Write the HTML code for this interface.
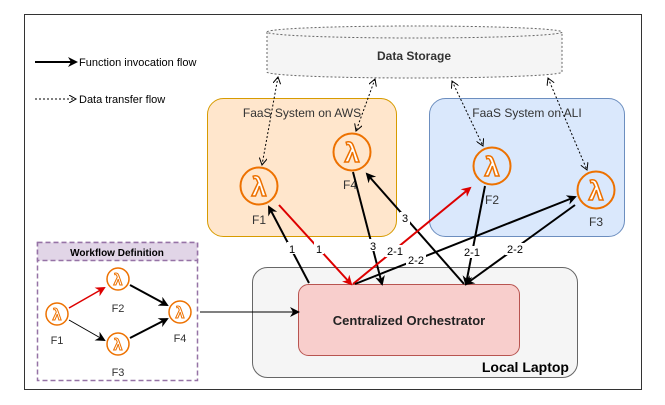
<!DOCTYPE html>
<html><head><meta charset="utf-8"><style>
html,body{margin:0;padding:0;background:#fff;}
svg{display:block;font-family:"Liberation Sans",sans-serif;}
</style></head><body>
<svg width="665" height="405" viewBox="0 0 665 405">
<defs>
<marker id="ab" markerWidth="10" markerHeight="10" refX="8" refY="5" orient="auto" markerUnits="userSpaceOnUse"><path d="M0,0 L10,5 L0,10 L3,5 z" fill="#000"/></marker>
<marker id="ar" markerWidth="10" markerHeight="10" refX="8" refY="5" orient="auto" markerUnits="userSpaceOnUse"><path d="M0,0 L10,5 L0,10 L3,5 z" fill="#d00"/></marker>
<marker id="ad" markerWidth="8" markerHeight="8" refX="7" refY="4" orient="auto" markerUnits="userSpaceOnUse"><path d="M0,0 L7,4 L0,8" fill="none" stroke="#000" stroke-width="1"/></marker>
<marker id="ads" markerWidth="8" markerHeight="8" refX="1" refY="4" orient="auto" markerUnits="userSpaceOnUse"><path d="M8,0 L1,4 L8,8" fill="none" stroke="#000" stroke-width="1"/></marker>
</defs>
<rect x="24.5" y="14.5" width="617" height="375" fill="#fff" stroke="#333" stroke-width="1"/>

<!-- legend -->
<line x1="35" y1="62" x2="76" y2="62" stroke="#000" stroke-width="2" marker-end="url(#ab)"/>
<text x="79" y="66" font-size="11">Function invocation flow</text>
<line x1="35" y1="99" x2="76" y2="99" stroke="#000" stroke-width="1" stroke-dasharray="2,2" marker-end="url(#ad)"/>
<text x="79" y="103" font-size="11">Data transfer flow</text>

<!-- storage cylinder -->
<path d="M267,32 L267,72 A147.5,6 0 0 0 562,72 L562,32" fill="#f5f5f5" stroke="#666" stroke-dasharray="2,2"/>
<ellipse cx="414.5" cy="32" rx="147.5" ry="6" fill="#f5f5f5" stroke="#666" stroke-dasharray="2,2"/>
<text x="414" y="60" font-size="12" font-weight="bold" text-anchor="middle" fill="#333">Data Storage</text>

<!-- FaaS boxes -->
<rect x="207.5" y="98.5" width="189" height="138" rx="16" fill="#ffe6cc" stroke="#d79b00"/>
<text x="302" y="117" font-size="12" text-anchor="middle" fill="#333">FaaS System on AWS</text>
<rect x="429.5" y="98.5" width="195" height="138" rx="16" fill="#dae8fc" stroke="#6c8ebf"/>
<text x="527" y="117" font-size="12" text-anchor="middle" fill="#333">FaaS System on ALI</text>

<!-- dotted data lines -->
<g stroke="#000" stroke-width="1" stroke-dasharray="2,2" fill="none">
<line x1="278" y1="77" x2="262" y2="165" marker-start="url(#ads)" marker-end="url(#ad)"/>
<line x1="375" y1="79" x2="356" y2="131" marker-start="url(#ads)" marker-end="url(#ad)"/>
<line x1="452" y1="81" x2="483" y2="146" marker-start="url(#ads)" marker-end="url(#ad)"/>
<line x1="548" y1="78" x2="587" y2="170" marker-start="url(#ads)" marker-end="url(#ad)"/>
</g>

<!-- Lambda icons -->
<g stroke="#ED7100" stroke-width="2" fill="#fff">
<circle cx="259" cy="186" r="18.5" fill="none"/>
<circle cx="352" cy="152" r="18.5" fill="none"/>
<circle cx="492" cy="166" r="18.5" fill="none"/>
<circle cx="596" cy="190" r="18.5" fill="none"/>
</g>
<g font-size="27" font-weight="bold" text-anchor="middle" fill="#fff" stroke="#ED7100" stroke-width="1.5">
<text x="259" y="196">λ</text><text x="352" y="162">λ</text><text x="492" y="176">λ</text><text x="596" y="200">λ</text>
</g>
<g font-size="12" fill="#333" text-anchor="middle">
<text x="259" y="224">F1</text><text x="350" y="189">F4</text><text x="492" y="204">F2</text><text x="596" y="226">F3</text>
</g>

<!-- local laptop -->
<rect x="252.5" y="267.5" width="325" height="110" rx="15" fill="#f5f5f5" stroke="#666"/>
<text x="569" y="372" font-size="14" font-weight="bold" text-anchor="end">Local Laptop</text>
<rect x="298.5" y="284.5" width="221" height="71" rx="10" fill="#f8cecc" stroke="#b85450"/>
<text x="409" y="325" font-size="13" font-weight="bold" text-anchor="middle" fill="#222">Centralized Orchestrator</text>

<!-- invocation arrows -->
<g stroke-width="2" fill="none">
<line x1="309" y1="283" x2="269" y2="207" stroke="#000" marker-end="url(#ab)"/>
<line x1="279" y1="205" x2="351" y2="284" stroke="#d00" marker-end="url(#ar)"/>
<line x1="353" y1="172" x2="382" y2="284" stroke="#000" marker-end="url(#ab)"/>
<line x1="464" y1="284" x2="367" y2="174" stroke="#000" marker-end="url(#ab)"/>
<line x1="353" y1="284" x2="470" y2="188" stroke="#d00" marker-end="url(#ar)"/>
<line x1="485" y1="186" x2="466" y2="284" stroke="#000" marker-end="url(#ab)"/>
<line x1="575" y1="205" x2="466" y2="284" stroke="#000" marker-end="url(#ab)"/>
<line x1="355" y1="284" x2="575" y2="197" stroke="#000" marker-end="url(#ab)"/>
</g>
<g font-size="11" text-anchor="middle" fill="#000">
<g fill="#fff" stroke="none">
<rect x="287" y="242" width="10" height="12"/><rect x="314" y="242" width="10" height="12"/>
<rect x="368" y="239" width="10" height="12"/><rect x="400" y="212" width="10" height="12"/>
<rect x="385" y="245" width="20" height="12"/><rect x="406" y="254" width="20" height="12"/>
<rect x="462" y="246" width="20" height="12"/><rect x="505" y="243" width="20" height="12"/>
</g>
<text x="292" y="253">1</text><text x="319" y="253">1</text>
<text x="373" y="250">3</text><text x="405" y="222">3</text>
<text x="395" y="255">2-1</text><text x="416" y="264">2-2</text>
<text x="472" y="256">2-1</text><text x="515" y="253">2-2</text>
</g>

<!-- workflow definition -->
<rect x="37.5" y="242.5" width="160" height="138" fill="#fff" stroke="#9673a6" stroke-width="1.5" stroke-dasharray="5,3"/>
<rect x="37.5" y="242.5" width="160" height="18" fill="#e1d5e7" stroke="#9673a6" stroke-width="1.5" stroke-dasharray="5,3"/>
<text x="117" y="256" font-size="10" font-weight="bold" text-anchor="middle">Workflow Definition</text>
<line x1="69" y1="308" x2="104" y2="288" stroke="#d00" stroke-width="1.5" marker-end="url(#ar)"/>
<line x1="69" y1="320" x2="104" y2="340" stroke="#000" stroke-width="1" marker-end="url(#ab)"/>
<line x1="130" y1="285" x2="167" y2="305" stroke="#000" stroke-width="2" marker-end="url(#ab)"/>
<line x1="130" y1="338" x2="167" y2="319" stroke="#000" stroke-width="2" marker-end="url(#ab)"/>
<g stroke="#ED7100" stroke-width="1.5" fill="none">
<circle cx="57" cy="314" r="11"/><circle cx="118" cy="279" r="11"/><circle cx="180" cy="312" r="11"/><circle cx="118" cy="344" r="11"/>
</g>
<g font-size="16" font-weight="bold" text-anchor="middle" fill="#fff" stroke="#ED7100" stroke-width="1">
<text x="57" y="320">λ</text><text x="118" y="285">λ</text><text x="180" y="318">λ</text><text x="118" y="350">λ</text>
</g>
<g font-size="11" fill="#333" text-anchor="middle">
<text x="57" y="344">F1</text><text x="118" y="312">F2</text><text x="180" y="342">F4</text><text x="118" y="376">F3</text>
</g>
<line x1="200" y1="312" x2="298" y2="312" stroke="#000" stroke-width="1" marker-end="url(#ab)"/>
</svg>
</body></html>
